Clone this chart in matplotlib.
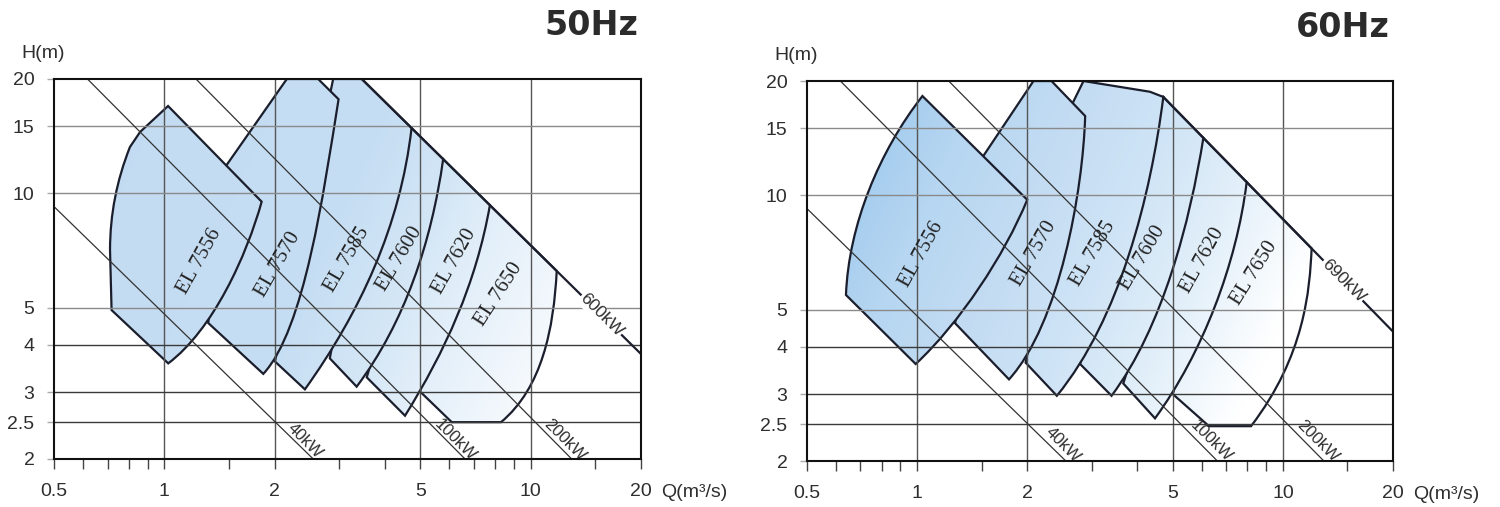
import numpy as np
import matplotlib
matplotlib.use("Agg")
import matplotlib.pyplot as plt
from matplotlib.path import Path
from matplotlib.patches import PathPatch
from matplotlib.ticker import NullFormatter, NullLocator

# ---------------- axis data ----------------
q_major = [0.5, 1, 2, 5, 10, 20]
q_major_labels = ["0.5", "1", "2", "5", "10", "20"]
q_minor = [0.6, 0.7, 0.8, 0.9, 1.5, 3, 4, 6, 7, 8, 9, 15]
h_ticks = [2, 2.5, 3, 4, 5, 10, 15, 20]
h_tick_labels = ["2", "2.5", "3", "4", "5", "10", "15", "20"]
q_grid = [1, 2, 5, 10]
h_grid_dark = [2.5, 3, 4]
h_grid_light = [5, 10, 15]

models = ["EL 7556", "EL 7570", "EL 7585", "EL 7600", "EL 7620", "EL 7650"]

# ---------------- power lines (Q, H) ----------------
power_40kw = [(0.5, 9.23), (2.55, 2.0)]
power_100kw = [(0.617, 20.0), (6.62, 2.0)]
power_200kw = [(1.22, 20.0), (12.94, 2.0)]
power_600kw_50hz = [(3.46, 20.0), (20.0, 3.78)]
power_690kw_60hz = [(4.71, 18.16), (20.0, 4.38)]

# ---------------- operating ranges, 50 Hz (Q m3/s, H m) ----------------
el7556_50 = [("M", [(0.718, 4.93)]), ("L", [(1.025, 3.57)]),
             ("C", [(1.359, 4.38), (1.678, 6.86), (1.844, 9.51)]),
             ("L", [(1.024, 16.98)]), ("L", [(0.859, 14.51)]), ("L", [(0.806, 13.25)]),
             ("Q", [(0.711, 9.78), (0.711, 7.10)]), ("Z", [])]
el7570_50 = [("M", [(1.318, 4.56)]), ("L", [(1.863, 3.35)]),
             ("C", [(2.41, 4.37), (2.72, 10.01), (2.99, 17.69)]),
             ("L", [(2.63, 20.0)]), ("L", [(2.16, 20.0)]), ("L", [(1.48, 11.88)]), ("Z", [])]
el7585_50 = [("M", [(2.005, 3.61)]), ("L", [(2.42, 3.05)]),
             ("C", [(3.42, 4.86), (4.41, 8.21), (4.73, 14.86)]),
             ("L", [(3.46, 20.0)]), ("L", [(2.89, 20.0)]), ("Z", [])]
el7600_50 = [("M", [(2.83, 3.68)]), ("L", [(3.35, 3.10)]),
             ("C", [(4.53, 4.57), (5.36, 7.43), (5.77, 12.31)]),
             ("L", [(4.73, 14.86)]), ("L", [(3.21, 7.10)]), ("Z", [])]
el7620_50 = [("M", [(3.57, 3.28)]), ("L", [(4.54, 2.60)]),
             ("C", [(5.83, 3.83), (7.10, 5.79), (7.74, 9.31)]),
             ("L", [(5.77, 12.31)]), ("L", [(4.40, 6.68)]), ("Z", [])]
el7650_50 = [("M", [(4.99, 3.01)]), ("L", [(6.09, 2.50)]), ("L", [(8.30, 2.50)]),
             ("C", [(10.76, 3.08), (11.56, 4.42), (11.78, 6.25)]),
             ("L", [(7.74, 9.31)]), ("L", [(5.84, 5.24)]), ("Z", [])]

# ---------------- operating ranges, 60 Hz ----------------
el7556_60 = [("M", [(0.639, 5.47)]), ("L", [(0.991, 3.60)]),
             ("C", [(1.306, 4.61), (1.732, 6.95), (2.00, 9.74)]),
             ("L", [(1.034, 18.26)]),
             ("C", [(0.788, 13.07), (0.650, 8.36), (0.639, 5.47)]), ("Z", [])]
el7570_60 = [("M", [(1.27, 4.61)]), ("L", [(1.783, 3.28)]),
             ("C", [(2.45, 4.59), (2.84, 10.27), (2.88, 16.18)]),
             ("L", [(2.33, 20.0)]), ("L", [(2.08, 20.0)]), ("L", [(1.517, 12.70)]), ("Z", [])]
el7585_60 = [("M", [(1.98, 3.63)]), ("L", [(2.41, 2.97)]),
             ("C", [(3.58, 4.73), (4.35, 9.96), (4.71, 18.16)]),
             ("L", [(4.33, 18.74)]), ("L", [(2.85, 20.0)]), ("L", [(2.66, 17.47)]),
             ("L", [(2.35, 8.01)]), ("Z", [])]
el7600_60 = [("M", [(2.79, 3.60)]), ("L", [(3.40, 2.97)]),
             ("C", [(4.69, 4.49), (5.57, 8.54), (6.06, 14.17)]),
             ("L", [(4.71, 18.16)]), ("L", [(3.43, 8.01)]), ("Z", [])]
el7620_60 = [("M", [(3.66, 3.20)]), ("L", [(4.47, 2.59)]),
             ("C", [(6.02, 3.84), (7.47, 6.59), (7.96, 10.84)]),
             ("L", [(6.06, 14.17)]), ("L", [(4.70, 6.68)]), ("Z", [])]
el7650_60 = [("M", [(5.00, 3.00)]), ("L", [(6.28, 2.47)]), ("L", [(8.18, 2.47)]),
             ("C", [(11.49, 3.79), (11.83, 5.64), (11.98, 7.25)]),
             ("L", [(7.96, 10.84)]), ("L", [(5.86, 5.24)]), ("Z", [])]

regions_50 = [el7556_50, el7570_50, el7585_50, el7600_50, el7620_50, el7650_50]
regions_60 = [el7556_60, el7570_60, el7585_60, el7600_60, el7620_60, el7650_60]

# label anchor points (Q, H) for the model names
label_pos_50 = [(1.244, 6.64), (2.04, 6.48), (3.16, 6.68), (4.40, 6.72), (6.18, 6.60), (8.19, 5.43)]
label_rot_50 = [61, 60, 60, 59, 61, 57]
label_pos_60 = [(1.03, 7.01), (2.09, 7.01), (3.02, 7.01), (4.14, 6.84), (6.01, 6.76), (8.33, 6.25)]
label_rot_60 = [61, 60, 60, 59, 61, 58]

kw_labels_50 = [("40kW", (2.42, 2.23)), ("100kW", (6.22, 2.24)), ("200kW", (12.41, 2.24))]
kw_labels_60 = [("40kW", (2.51, 2.20)), ("100kW", (6.36, 2.26)), ("200kW", (12.47, 2.26))]
top_kw_50 = ("600kW", (15.56, 4.78))
top_kw_60 = ("690kW", (14.6, 5.97))

# ---------------- styling ----------------
plt.rcParams["font.family"] = ["Liberation Sans", "DejaVu Sans"]
EDGE = "#1b1e2c"
TXT = "#2e2e2e"

ramp_50 = ([0.0, 0.6, 0.75, 0.85, 1.0, 1.1],
           ["#c3dbf2", "#c6def3", "#d3e6f6", "#e1eef9", "#f0f6fc", "#fbfdfe"])
ramp_60 = ([0.0, 0.15, 0.3, 0.5, 0.65, 0.8, 0.95, 1.0],
           ["#a2cbee", "#a2cbee", "#b6d6f1", "#c5ddf3", "#cfe4f6", "#e0eef9", "#f7fbfe", "#ffffff"])


def hex_rgb(h):
    h = h.lstrip("#")
    return [int(h[i:i + 2], 16) / 255 for i in (0, 2, 4)]


def gradient(ramp, wy=0.3, n=300):
    xs = np.linspace(0, 1, n)
    X, Y = np.meshgrid(xs, xs)
    U = X + wy * (1 - Y)
    cols = np.array([hex_rgb(c) for c in ramp[1]])
    img = np.ones((n, n, 4))
    for c in range(3):
        img[..., c] = np.interp(U, ramp[0], cols[:, c])
    return img


def build_path(spec):
    verts, codes = [], []
    for kind, pts in spec:
        if kind == "M":
            codes.append(Path.MOVETO); verts.append(pts[0])
        elif kind == "L":
            codes.append(Path.LINETO); verts.append(pts[0])
        elif kind == "C":
            codes += [Path.CURVE4] * 3; verts += pts
        elif kind == "Q":
            codes += [Path.CURVE3] * 2; verts += pts
        elif kind == "Z":
            codes.append(Path.CLOSEPOLY); verts.append(verts[0])
    return Path(verts, codes)


def draw_chart(ax, regions, ramp, lab_pos, lab_rot, kw_labels, top_line, top_kw, title):
    ax.set_xscale("log")
    ax.set_yscale("log")
    ax.set_xlim(0.5, 20)
    ax.set_ylim(2, 20)
    ax.set_autoscale_on(False)

    img = gradient(ramp)
    for k, spec in enumerate(reversed(regions)):
        z = 1 + k * 0.1
        patch = PathPatch(build_path(spec), facecolor="none", edgecolor=EDGE,
                          lw=1.6, zorder=z + 0.05)
        ax.add_patch(patch)
        im = ax.imshow(img, extent=(0, 1, 0, 1), transform=ax.transAxes, origin="lower",
                       aspect="auto", interpolation="bilinear", zorder=z)
        im.set_clip_path(patch)

    for q in q_grid:
        ax.axvline(q, color="#555555", lw=1.0, zorder=2.5)
    for h in h_grid_dark:
        ax.axhline(h, color="#3a3a3a", lw=1.0, zorder=2.5)
    for h in h_grid_light:
        ax.axhline(h, color="#8a8a8a", lw=1.0, zorder=2.5)

    for line in (power_40kw, power_100kw, power_200kw):
        ax.plot([p[0] for p in line], [p[1] for p in line], color="#333333", lw=0.9, zorder=3)
    ax.plot([p[0] for p in top_line], [p[1] for p in top_line], color=EDGE, lw=1.6, zorder=3.5)

    for name, (q, h) in kw_labels:
        ax.text(q, h, name, rotation=-45, rotation_mode="anchor", ha="center", va="center",
                fontsize=12, color=TXT, zorder=4)
    name, (q, h) = top_kw
    ax.text(q, h, name, rotation=-45, rotation_mode="anchor", ha="center", va="center",
            fontsize=12.5, color=TXT, zorder=4.5,
            bbox=dict(facecolor="white", edgecolor="none", pad=0.6))

    for m, (q, h), r in zip(models, lab_pos, lab_rot):
        ax.text(q, h, m, rotation=r, rotation_mode="anchor", ha="center", va="center",
                fontsize=15, family="Liberation Serif", color="#222222", zorder=4)

    ax.set_xticks(q_major)
    ax.set_xticklabels(q_major_labels)
    ax.set_xticks(q_minor, minor=True)
    ax.xaxis.set_minor_formatter(NullFormatter())
    ax.tick_params(axis="x", which="both", direction="out", length=7, width=1.0,
                   color="#444444", labelsize=14, labelcolor=TXT, pad=10)
    ax.set_yticks(h_ticks)
    ax.set_yticklabels(h_tick_labels)
    ax.yaxis.set_minor_locator(NullLocator())
    ax.tick_params(axis="y", which="major", direction="out", length=5, width=1.0,
                   color="#aaaaaa", labelsize=14, labelcolor=TXT, pad=9)

    for s in ax.spines.values():
        s.set_linewidth(1.5)
        s.set_color("#111111")
        s.set_zorder(5)

    ax.text(-0.055, 1.066, "H(m)", transform=ax.transAxes, ha="left", va="center",
            fontsize=14, color=TXT)
    ax.text(1.035, -0.087, "Q(m³/s)", transform=ax.transAxes, ha="left", va="center",
            fontsize=14, color=TXT)
    ax.text(0.995, 1.14, title, transform=ax.transAxes, ha="right", va="center",
            fontsize=24, fontweight="bold", family="DejaVu Sans", color="#2b2b2b")


fig = plt.figure(figsize=(15, 5.07), dpi=100)
ax1 = fig.add_axes([0.036, 0.0947, 0.3913, 0.7495])
ax2 = fig.add_axes([0.538, 0.0907, 0.3907, 0.7495])

draw_chart(ax1, regions_50, ramp_50, label_pos_50, label_rot_50, kw_labels_50,
           power_600kw_50hz, top_kw_50, "50Hz")
draw_chart(ax2, regions_60, ramp_60, label_pos_60, label_rot_60, kw_labels_60,
           power_690kw_60hz, top_kw_60, "60Hz")

fig.savefig("out.png", dpi=100, facecolor="white")
